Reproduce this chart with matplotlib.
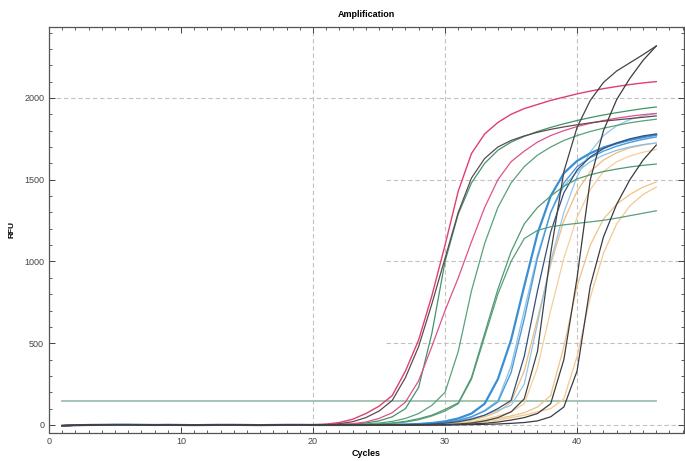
import matplotlib
matplotlib.use("Agg")
import matplotlib.pyplot as plt
from matplotlib.ticker import MultipleLocator

plt.rcParams['font.family'] = ['Liberation Sans', 'DejaVu Sans']

cycles = list(range(1, 47))
# common flat baseline read for cycles 1..19
baseline = [-4, -2, 0, 1, 2, 2, 1, 0, 1, 0, -1, 0, 1, 1, 0, -1, 0, 1, 1]

# values for cycles 20..46
pink_top = [2, 5, 15, 35, 70, 115, 180, 330, 520, 790, 1100, 1430, 1660, 1780, 1850, 1900, 1935, 1960, 1985, 2005, 2025, 2042, 2057, 2070, 2082, 2092, 2100]
dark_early = [1, 3, 8, 20, 45, 85, 150, 290, 480, 740, 1020, 1300, 1510, 1630, 1700, 1740, 1768, 1790, 1808, 1823, 1836, 1848, 1858, 1866, 1874, 1882, 1890]
green_1 = [0, 1, 3, 6, 12, 25, 50, 100, 230, 560, 1000, 1290, 1480, 1600, 1680, 1730, 1765, 1795, 1820, 1842, 1862, 1880, 1896, 1910, 1923, 1935, 1945]
pink_2 = [0, 1, 3, 8, 18, 40, 75, 140, 270, 480, 700, 900, 1120, 1330, 1500, 1610, 1675, 1730, 1770, 1800, 1825, 1845, 1862, 1876, 1888, 1898, 1905]
green_2 = [0, 0, 1, 3, 6, 12, 22, 40, 70, 120, 200, 450, 820, 1110, 1330, 1480, 1580, 1650, 1700, 1740, 1770, 1795, 1815, 1832, 1848, 1860, 1870]
green_3 = [0, 0, 0, 1, 3, 6, 12, 22, 38, 60, 95, 135, 290, 560, 830, 1060, 1230, 1330, 1400, 1460, 1505, 1530, 1550, 1565, 1578, 1588, 1596]
green_4 = [0, 0, 0, 0, 2, 5, 10, 18, 32, 55, 85, 130, 280, 540, 800, 1000, 1140, 1190, 1212, 1224, 1233, 1242, 1252, 1265, 1280, 1295, 1310]
blue_1 = [0, 0, 0, 0, 0, 1, 2, 3, 6, 12, 22, 40, 70, 130, 280, 520, 850, 1170, 1400, 1540, 1615, 1662, 1697, 1722, 1743, 1760, 1775]
blue_2 = [0, 0, 0, 0, 0, 1, 2, 3, 5, 9, 16, 28, 50, 85, 140, 320, 650, 1020, 1300, 1480, 1580, 1635, 1675, 1705, 1728, 1747, 1762]
lblue_1 = [0, 0, 0, 0, 0, 1, 2, 3, 5, 9, 16, 28, 50, 90, 150, 360, 700, 1040, 1300, 1460, 1550, 1610, 1650, 1680, 1700, 1715, 1725]
lblue_2 = [0, 0, 0, 0, 0, 0, 1, 2, 4, 8, 14, 25, 40, 60, 90, 120, 250, 620, 1000, 1300, 1520, 1670, 1770, 1830, 1868, 1890, 1905]
navy_1 = [0, 0, 0, 0, 0, 0, 1, 2, 3, 6, 11, 20, 35, 60, 100, 150, 420, 820, 1180, 1420, 1560, 1640, 1690, 1725, 1750, 1768, 1780]
orange_1 = [0, 0, 0, 0, 0, 0, 0, 1, 3, 6, 10, 18, 30, 50, 80, 140, 330, 650, 980, 1250, 1430, 1550, 1620, 1665, 1695, 1712, 1725]
orange_4 = [0, 0, 0, 0, 0, 0, 0, 1, 2, 4, 7, 12, 20, 35, 55, 80, 130, 350, 700, 1020, 1270, 1440, 1550, 1610, 1645, 1668, 1685]
orange_2 = [0, 0, 0, 0, 0, 0, 0, 0, 1, 3, 5, 9, 15, 25, 40, 55, 75, 110, 180, 480, 850, 1100, 1260, 1350, 1410, 1455, 1486]
orange_3 = [0, 0, 0, 0, 0, 0, 0, 0, 1, 2, 4, 7, 12, 20, 30, 45, 60, 80, 100, 160, 420, 780, 1050, 1230, 1340, 1410, 1455]
black_1 = [0, 0, 0, 0, 0, 0, 0, 0, 0, 1, 3, 6, 12, 25, 45, 80, 160, 450, 1050, 1550, 1820, 1985, 2095, 2165, 2215, 2265, 2318]
black_2 = [0, 0, 0, 0, 0, 0, 0, 0, 0, 0, 1, 3, 6, 10, 18, 30, 45, 70, 130, 400, 900, 1500, 1800, 1990, 2120, 2230, 2318]
black_3 = [0, 0, 0, 0, 0, 0, 0, 0, 0, 0, 0, 1, 2, 4, 6, 10, 15, 25, 50, 110, 330, 850, 1150, 1350, 1500, 1620, 1712]

threshold = 148

series = [
    (orange_3, '#f3c88e', 0.9), (orange_2, '#f1c285', 0.9), (orange_4, '#f4cf9c', 0.9),
    (orange_1, '#efbd7c', 0.9),
    (lblue_2, '#93c6e8', 0.9), (lblue_1, '#86bfe6', 0.9),
    (blue_2, '#4c9ad8', 1.0), (blue_1, '#3a8fd4', 1.6), (navy_1, '#34507a', 0.9),
    (green_4, '#5a9e7c', 0.9), (green_3, '#4f9a70', 0.9), (green_2, '#5aa07a', 0.9),
    (green_1, '#3f9568', 0.9),
    (pink_2, '#e0508a', 0.9), (dark_early, '#5e4a52', 0.9), (pink_top, '#de3f6e', 1.0),
    (black_3, '#3a3a44', 0.9), (black_2, '#3c3c3c', 0.9), (black_1, '#444444', 0.9),
]

fig = plt.figure(figsize=(6.85, 4.61), dpi=100)
ax = fig.add_axes([49/685, 1-432.5/461, (684-49)/685, (432.5-27)/461])
ax.set_xlim(0, 48.1)
ax.set_ylim(-46, 2434)

grid_kw = dict(color='#c2c2c2', lw=0.8, ls=(0, (4, 2.5)), zorder=1)
for xv in [20, 30, 40]:
    ax.axvline(xv, **grid_kw)
ax.axhline(2000, **grid_kw)
for yv in [500, 1000, 1500]:
    ax.hlines(yv, 25.5, 48.1, **grid_kw)
ax.hlines(0, 24.7, 48.1, **grid_kw)

ax.plot([cycles[0], cycles[-1]], [threshold, threshold], color='#9cc0ac', lw=1.3, zorder=2)

for vals, col, lw in series:
    ax.plot(cycles, baseline + vals, color=col, lw=lw, zorder=3)

ax.xaxis.set_major_locator(MultipleLocator(10))
ax.xaxis.set_minor_locator(MultipleLocator(1))
ax.yaxis.set_major_locator(MultipleLocator(500))
ax.yaxis.set_minor_locator(MultipleLocator(100))
ax.tick_params(which='both', direction='in', top=True, right=True, labelsize=6.5, colors='#444444')
ax.tick_params(which='major', length=4, width=0.7)
ax.tick_params(which='minor', length=2, width=0.6)
for s in ax.spines.values():
    s.set_color('#555555')
    s.set_linewidth(0.9)

ax.set_title('Amplification', fontsize=6.5, fontweight='bold', pad=7)
ax.set_xlabel('Cycles', fontsize=6.5, fontweight='bold', labelpad=2)
ax.set_ylabel('RFU', fontsize=6, fontweight='bold', labelpad=6)

fig.savefig('out.png', dpi=100, facecolor='white')
